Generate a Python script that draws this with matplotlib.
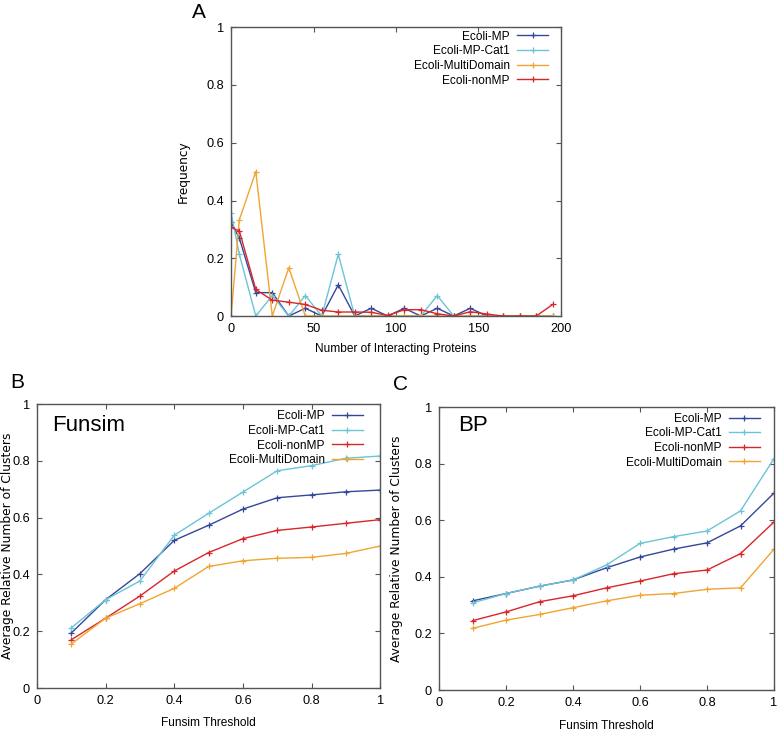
import numpy as np
import matplotlib
matplotlib.use("Agg")
import matplotlib.pyplot as plt
import matplotlib.font_manager as fm

# gnuplot look: narrow sans if we have it, else plain Liberation a bit smaller
_names = set(f.name for f in fm.fontManager.ttflist)
if 'Liberation Sans Narrow' in _names:
    NARROW, NSIZE = 'Liberation Sans Narrow', 10
else:
    NARROW, NSIZE = 'Liberation Sans', 8.6
plt.rcParams['font.family'] = [NARROW, 'DejaVu Sans']

# panel A: interaction degree distribution
deg_x = [0, 5, 15, 25, 35, 45, 55, 65, 75, 85, 95, 105, 115, 125, 135, 145, 155, 165, 175, 185, 195]
freq_mp = [0.324, 0.270, 0.081, 0.081, 0.0, 0.027, 0.0, 0.108, 0.0, 0.027, 0.0, 0.027,
           0.0, 0.027, 0.0, 0.027, 0.0, 0.0, 0.0, 0.0, 0.0]
freq_cat1 = [0.357, 0.214, 0.0, 0.071, 0.0, 0.071, 0.0, 0.214, 0.0, 0.0, 0.0, 0.0,
             0.0, 0.071, 0.0, 0.0, 0.0, 0.0, 0.0, 0.0, 0.0]
freq_multi = [0.0, 0.333, 0.5, 0.0, 0.167, 0.0, 0.0, 0.0, 0.0, 0.0, 0.0, 0.0,
              0.0, 0.0, 0.0, 0.0, 0.0, 0.0, 0.0, 0.0, 0.0]
freq_nonmp = [0.307, 0.295, 0.092, 0.055, 0.048, 0.040, 0.020, 0.014, 0.014, 0.013, 0.002, 0.022,
              0.022, 0.008, 0.0, 0.015, 0.007, 0.0, 0.0, 0.0, 0.040]

# panels B / C: relative number of clusters vs threshold
thr = [0.1, 0.2, 0.3, 0.4, 0.5, 0.6, 0.7, 0.8, 0.9, 1.0]
fun_mp = [0.194, 0.311, 0.403, 0.520, 0.573, 0.630, 0.670, 0.680, 0.691, 0.697]
fun_cat1 = [0.212, 0.311, 0.377, 0.538, 0.615, 0.690, 0.765, 0.783, 0.809, 0.817]
fun_nonmp = [0.170, 0.246, 0.324, 0.412, 0.477, 0.526, 0.555, 0.567, 0.580, 0.593]
fun_multi = [0.155, 0.246, 0.297, 0.351, 0.428, 0.448, 0.457, 0.460, 0.474, 0.500]

bp_mp = [0.315, 0.341, 0.367, 0.389, 0.432, 0.470, 0.498, 0.520, 0.580, 0.696]
bp_cat1 = [0.308, 0.341, 0.367, 0.389, 0.442, 0.518, 0.542, 0.562, 0.633, 0.818]
bp_nonmp = [0.245, 0.276, 0.312, 0.333, 0.361, 0.385, 0.411, 0.424, 0.482, 0.594]
bp_multi = [0.218, 0.247, 0.267, 0.291, 0.315, 0.335, 0.341, 0.356, 0.361, 0.498]

yticks = [0, 0.2, 0.4, 0.6, 0.8, 1]
tick_lbl = ['0', '0.2', '0.4', '0.6', '0.8', '1']

c_mp = '#34489a'
c_cat1 = '#6cc4d6'
c_multi = '#f0a531'
c_nonmp = '#d9262a'

fig = plt.figure(figsize=(7.78, 7.35), dpi=100)


def style(ax):
    for s in ax.spines.values():
        s.set_color('#555555')
        s.set_linewidth(1.0)
    ax.tick_params(direction='in', top=True, right=True, length=3.5, width=0.8,
                   color='#555555', labelsize=NSIZE + 0.6, pad=5)
    ax.set_ylim(0, 1)
    ax.set_yticks(yticks)
    ax.set_yticklabels(tick_lbl)


def leg(ax, x, y):
    ax.legend(loc='upper right', bbox_to_anchor=(x, y), frameon=False, markerfirst=False,
              fontsize=NSIZE, handlelength=2.6, handletextpad=0.6, labelspacing=0.22,
              borderaxespad=0, borderpad=0)


kw = dict(marker='+', markersize=5, lw=1.0, mew=0.9)

# ---- A ----
axA = fig.add_axes([0.297, 0.570, 0.424, 0.393])
axA.plot(deg_x, freq_mp, color=c_mp, label='Ecoli-MP', **kw)
axA.plot(deg_x, freq_cat1, color=c_cat1, label='Ecoli-MP-Cat1', **kw)
axA.plot(deg_x, freq_multi, color=c_multi, label='Ecoli-MultiDomain', **kw)
axA.plot(deg_x, freq_nonmp, color=c_nonmp, label='Ecoli-nonMP', **kw)
style(axA)
axA.set_xlim(0, 200)
axA.set_xticks([0, 50, 100, 150, 200])
axA.set_xlabel('Number of Interacting Proteins', fontsize=NSIZE, labelpad=6)
axA.set_ylabel('Frequency', fontsize=8.7, family='DejaVu Sans', labelpad=12)
leg(axA, 0.961, 0.988)
fig.text(199 / 778, 1 - 13 / 735, 'A', fontsize=15, family='Liberation Sans', ha='center', va='center')

# ---- B ----
axB = fig.add_axes([0.0476, 0.0639, 0.441, 0.3864])
axB.plot(thr, fun_mp, color=c_mp, label='Ecoli-MP', **kw)
axB.plot(thr, fun_cat1, color=c_cat1, label='Ecoli-MP-Cat1', **kw)
axB.plot(thr, fun_nonmp, color=c_nonmp, label='Ecoli-nonMP', **kw)
axB.plot(thr, fun_multi, color=c_multi, label='Ecoli-MultiDomain', **kw)
style(axB)
axB.set_xlim(0, 1)
axB.set_xticks(yticks)
axB.set_xticklabels(tick_lbl)
axB.set_xlabel('Funsim Threshold', fontsize=NSIZE, labelpad=7)
axB.set_ylabel('Average Relative Number of Clusters', fontsize=8.8, family='DejaVu Sans')
axB.yaxis.set_label_coords(-0.067, 0.5)
axB.text(0.044, 0.926, 'Funsim', transform=axB.transAxes, fontsize=16,
         family='Liberation Sans', va='center')
leg(axB, 0.950, 0.978)
fig.text(17 / 778, 1 - 382 / 735, 'B', fontsize=15, family='Liberation Sans', ha='center', va='center')

# ---- C ----
axC = fig.add_axes([0.5643, 0.0612, 0.4306, 0.385])
axC.plot(thr, bp_mp, color=c_mp, label='Ecoli-MP', **kw)
axC.plot(thr, bp_cat1, color=c_cat1, label='Ecoli-MP-Cat1', **kw)
axC.plot(thr, bp_nonmp, color=c_nonmp, label='Ecoli-nonMP', **kw)
axC.plot(thr, bp_multi, color=c_multi, label='Ecoli-MultiDomain', **kw)
style(axC)
axC.set_xlim(0, 1)
axC.set_xticks(yticks)
axC.set_xticklabels(tick_lbl)
axC.set_xlabel('Funsim Threshold', fontsize=NSIZE, labelpad=8)
axC.set_ylabel('Average Relative Number of Clusters', fontsize=8.8, family='DejaVu Sans')
axC.yaxis.set_label_coords(-0.107, 0.5)
axC.text(0.057, 0.936, 'BP', transform=axC.transAxes, fontsize=16,
         family='Liberation Sans', va='center')
leg(axC, 0.958, 0.980)
fig.text(400 / 778, 1 - 385 / 735, 'C', fontsize=15, family='Liberation Sans', ha='center', va='center')

fig.savefig('out.png', dpi=100)
